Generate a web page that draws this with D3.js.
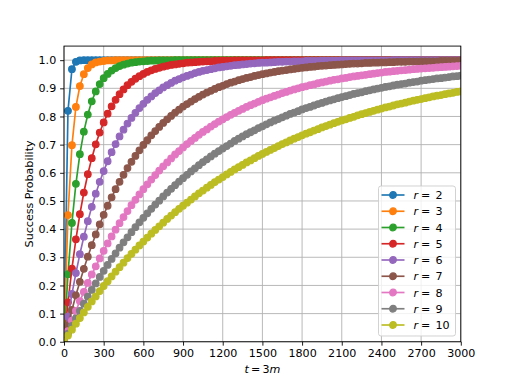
<!doctype html>
<html lang='en'>
  <head>
    <meta charset="utf-8">
    <script src="https://d3js.org/d3.v7.min.js"></script>
    <title>Success Probability</title>
  <style>
  body{
    margin: 0;
    background: white;
  }
  svg text {
    font-family: 'DejaVu Sans', sans-serif;
  }
  </style>
  </head>
  <body>
    <div id='chart'></div>
    <script>
    // t = 3m, one point every 30
    const tValues = [
      0, 30, 60, 90, 120, 150, 180, 210, 240, 270,
      300, 330, 360, 390, 420, 450, 480, 510, 540, 570,
      600, 630, 660, 690, 720, 750, 780, 810, 840, 870,
      900, 930, 960, 990, 1020, 1050, 1080, 1110, 1140, 1170,
      1200, 1230, 1260, 1290, 1320, 1350, 1380, 1410, 1440, 1470,
      1500, 1530, 1560, 1590, 1620, 1650, 1680, 1710, 1740, 1770,
      1800, 1830, 1860, 1890, 1920, 1950, 1980, 2010, 2040, 2070,
      2100, 2130, 2160, 2190, 2220, 2250, 2280, 2310, 2340, 2370,
      2400, 2430, 2460, 2490, 2520, 2550, 2580, 2610, 2640, 2670,
      2700, 2730, 2760, 2790, 2820, 2850, 2880, 2910, 2940, 2970,
      3000
    ];

    const r2 = [
      0, .820, .968, .994, .999, 1, 1, 1, 1, 1,
      1, 1, 1, 1, 1, 1, 1, 1, 1, 1,
      1, 1, 1, 1, 1, 1, 1, 1, 1, 1,
      1, 1, 1, 1, 1, 1, 1, 1, 1, 1,
      1, 1, 1, 1, 1, 1, 1, 1, 1, 1,
      1, 1, 1, 1, 1, 1, 1, 1, 1, 1,
      1, 1, 1, 1, 1, 1, 1, 1, 1, 1,
      1, 1, 1, 1, 1, 1, 1, 1, 1, 1,
      1, 1, 1, 1, 1, 1, 1, 1, 1, 1,
      1, 1, 1, 1, 1, 1, 1, 1, 1, 1,
      1
    ];
    const r3 = [
      0, .450, .698, .834, .908, .950, .972, .985, .992, .995,
      .997, .999, .999, 1, 1, 1, 1, 1, 1, 1,
      1, 1, 1, 1, 1, 1, 1, 1, 1, 1,
      1, 1, 1, 1, 1, 1, 1, 1, 1, 1,
      1, 1, 1, 1, 1, 1, 1, 1, 1, 1,
      1, 1, 1, 1, 1, 1, 1, 1, 1, 1,
      1, 1, 1, 1, 1, 1, 1, 1, 1, 1,
      1, 1, 1, 1, 1, 1, 1, 1, 1, 1,
      1, 1, 1, 1, 1, 1, 1, 1, 1, 1,
      1, 1, 1, 1, 1, 1, 1, 1, 1, 1,
      1
    ];
    const r4 = [
      0, .240, .422, .561, .666, .746, .807, .854, .889, .915,
      .936, .951, .963, .972, .979, .984, .988, .991, .993, .995,
      .996, .997, .998, .998, .999, .999, .999, .999, 1, 1,
      1, 1, 1, 1, 1, 1, 1, 1, 1, 1,
      1, 1, 1, 1, 1, 1, 1, 1, 1, 1,
      1, 1, 1, 1, 1, 1, 1, 1, 1, 1,
      1, 1, 1, 1, 1, 1, 1, 1, 1, 1,
      1, 1, 1, 1, 1, 1, 1, 1, 1, 1,
      1, 1, 1, 1, 1, 1, 1, 1, 1, 1,
      1, 1, 1, 1, 1, 1, 1, 1, 1, 1,
      1
    ];
    const r5 = [
      0, .140, .260, .364, .453, .530, .595, .652, .701, .743,
      .779, .810, .836, .859, .879, .896, .911, .923, .934, .943,
      .951, .958, .964, .969, .973, .977, .980, .983, .985, .987,
      .989, .991, .992, .993, .994, .995, .996, .996, .997, .997,
      .998, .998, .998, .999, .999, .999, .999, .999, .999, .999,
      .999, 1, 1, 1, 1, 1, 1, 1, 1, 1,
      1, 1, 1, 1, 1, 1, 1, 1, 1, 1,
      1, 1, 1, 1, 1, 1, 1, 1, 1, 1,
      1, 1, 1, 1, 1, 1, 1, 1, 1, 1,
      1, 1, 1, 1, 1, 1, 1, 1, 1, 1,
      1
    ];
    const r6 = [
      0, .089, .170, .244, .311, .373, .428, .479, .526, .568,
      .606, .641, .673, .702, .729, .753, .775, .795, .813, .830,
      .845, .859, .871, .883, .893, .903, .911, .919, .927, .933,
      .939, .944, .949, .954, .958, .962, .965, .968, .971, .974,
      .976, .978, .980, .982, .983, .985, .986, .988, .989, .990,
      .991, .991, .992, .993, .994, .994, .995, .995, .996, .996,
      .996, .997, .997, .997, .997, .998, .998, .998, .998, .998,
      .999, .999, .999, .999, .999, .999, .999, .999, .999, .999,
      .999, .999, .999, 1, 1, 1, 1, 1, 1, 1,
      1, 1, 1, 1, 1, 1, 1, 1, 1, 1,
      1
    ];
    const r7 = [
      0, .058, .113, .165, .213, .259, .302, .343, .381, .417,
      .451, .483, .513, .542, .568, .593, .617, .639, .660, .680,
      .699, .716, .733, .748, .763, .777, .790, .802, .814, .824,
      .835, .844, .853, .862, .870, .878, .885, .891, .898, .904,
      .909, .915, .920, .924, .929, .933, .937, .940, .944, .947,
      .950, .953, .956, .958, .961, .963, .965, .967, .969, .971,
      .973, .974, .976, .977, .979, .980, .981, .982, .983, .984,
      .985, .986, .987, .988, .988, .989, .990, .990, .991, .991,
      .992, .992, .993, .993, .994, .994, .994, .995, .995, .995,
      .996, .996, .996, .996, .996, .997, .997, .997, .997, .997,
      .998
    ];
    const r8 = [
      0, .038, .075, .110, .144, .177, .209, .239, .268, .296,
      .323, .349, .374, .398, .421, .443, .464, .485, .504, .523,
      .542, .559, .576, .592, .608, .623, .637, .651, .665, .677,
      .690, .702, .713, .724, .735, .745, .754, .764, .773, .782,
      .790, .798, .806, .813, .820, .827, .834, .840, .846, .852,
      .858, .863, .868, .873, .878, .883, .887, .892, .896, .900,
      .904, .907, .911, .914, .918, .921, .924, .927, .930, .932,
      .935, .937, .940, .942, .944, .946, .948, .950, .952, .954,
      .956, .958, .959, .961, .962, .964, .965, .966, .968, .969,
      .970, .971, .972, .973, .974, .975, .976, .977, .978, .979,
      .980
    ];
    const r9 = [
      0, .029, .056, .083, .110, .135, .160, .184, .207, .230,
      .252, .273, .294, .314, .334, .353, .371, .389, .407, .424,
      .440, .456, .472, .487, .501, .516, .530, .543, .556, .569,
      .581, .593, .605, .616, .627, .638, .648, .658, .668, .677,
      .686, .695, .704, .713, .721, .729, .737, .744, .751, .759,
      .765, .772, .779, .785, .791, .797, .803, .809, .814, .819,
      .825, .830, .834, .839, .844, .848, .853, .857, .861, .865,
      .869, .872, .876, .880, .883, .886, .890, .893, .896, .899,
      .902, .905, .907, .910, .913, .915, .917, .920, .922, .924,
      .927, .929, .931, .933, .935, .936, .938, .940, .942, .943,
      .945
    ];
    const r10 = [
      0, .022, .043, .064, .084, .104, .124, .143, .161, .180,
      .198, .215, .232, .249, .265, .281, .297, .312, .327, .342,
      .356, .370, .384, .397, .410, .423, .436, .448, .460, .472,
      .483, .494, .505, .516, .527, .537, .547, .557, .567, .576,
      .585, .594, .603, .612, .620, .628, .637, .644, .652, .660,
      .667, .674, .681, .688, .695, .702, .708, .715, .721, .727,
      .733, .739, .744, .750, .755, .761, .766, .771, .776, .781,
      .786, .790, .795, .799, .804, .808, .812, .816, .820, .824,
      .828, .832, .835, .839, .843, .846, .849, .853, .856, .859,
      .862, .865, .868, .871, .874, .876, .879, .882, .884, .887,
      .889
    ];

    const rLabels = [2, 3, 4, 5, 6, 7, 8, 9, 10];
    const seriesValues = [r2, r3, r4, r5, r6, r7, r8, r9, r10];
    const colors = ['#1f77b4','#ff7f0e','#2ca02c','#d62728','#9467bd','#8c564b','#e377c2','#7f7f7f','#bcbd22'];

    const xTicks = [0, 300, 600, 900, 1200, 1500, 1800, 2100, 2400, 2700, 3000];
    const yTicks = [0, 0.1, 0.2, 0.3, 0.4, 0.5, 0.6, 0.7, 0.8, 0.9, 1.0];

    const wsvg = 512;
    const hsvg = 384;
    const padL = 64, padR = 460.8, padT = 46.08, padB = 341.76;
    const fontSize = 11.11;

    const xScale = d3.scaleLinear().domain([0, 3000]).range([padL, padR]);
    const yScale = d3.scaleLinear().domain([0, 1.05]).range([padB, padT]);

    const svg = d3.select('#chart')
                  .append('svg')
                  .attr('width', wsvg)
                  .attr('height', hsvg);

    svg.append('rect')
       .attr('width', wsvg).attr('height', hsvg)
       .attr('fill', 'white');

    svg.append('clipPath')
       .attr('id', 'plotClip')
       .append('rect')
       .attr('x', padL).attr('y', padT)
       .attr('width', padR - padL).attr('height', padB - padT);

    // grid
    const grid = svg.append('g').attr('stroke', '#b0b0b0').attr('stroke-width', 0.89);
    grid.selectAll('.vgrid')
        .data(xTicks)
        .enter()
        .append('line')
        .attr('x1', d => xScale(d)).attr('x2', d => xScale(d))
        .attr('y1', padT).attr('y2', padB);
    grid.selectAll('.hgrid')
        .data(yTicks)
        .enter()
        .append('line')
        .attr('x1', padL).attr('x2', padR)
        .attr('y1', d => yScale(d)).attr('y2', d => yScale(d));

    // curves, drawn in order so r=10 ends up on top
    const line = d3.line()
                   .x((d, i) => xScale(tValues[i]))
                   .y(d => yScale(d));

    const plot = svg.append('g').attr('clip-path', 'url(#plotClip)');

    seriesValues.forEach((vals, k) => {
      const g = plot.append('g');
      g.append('path')
       .datum(vals)
       .attr('d', line)
       .attr('fill', 'none')
       .attr('stroke', colors[k])
       .attr('stroke-width', 1.67);
      g.selectAll('circle')
       .data(vals)
       .enter()
       .append('circle')
       .attr('cx', (d, i) => xScale(tValues[i]))
       .attr('cy', d => yScale(d))
       .attr('r', 3.33)
       .attr('fill', colors[k])
       .attr('stroke', colors[k])
       .attr('stroke-width', 1.1);
    });

    // axes
    const xAxis = d3.axisBottom(xScale)
                    .tickValues(xTicks)
                    .tickSize(3.9)
                    .tickPadding(3.9)
                    .tickFormat(d3.format('d'));
    const yAxis = d3.axisLeft(yScale)
                    .tickValues(yTicks)
                    .tickSize(3.9)
                    .tickPadding(3.9)
                    .tickFormat(d3.format('.1f'));

    const gx = svg.append('g')
       .attr('transform', 'translate(0,' + padB + ')')
       .call(xAxis);
    const gy = svg.append('g')
       .attr('transform', 'translate(' + padL + ',0)')
       .call(yAxis);

    [gx, gy].forEach(g => {
      g.select('.domain').remove();
      g.selectAll('.tick line').attr('stroke', 'black').attr('stroke-width', 0.89);
      g.selectAll('.tick text')
       .attr('fill', 'black')
       .style('font-size', fontSize + 'px')
       .style('font-family', "'DejaVu Sans', sans-serif");
    });

    svg.append('rect')
       .attr('x', padL).attr('y', padT)
       .attr('width', padR - padL).attr('height', padB - padT)
       .attr('fill', 'none')
       .attr('stroke', 'black')
       .attr('stroke-width', 0.89);

    // axis labels
    const xLabel = svg.append('text')
       .attr('x', (padL + padR) / 2)
       .attr('y', 373)
       .attr('text-anchor', 'middle')
       .style('font-size', fontSize + 'px');
    xLabel.append('tspan').attr('font-style', 'italic').text('t');
    xLabel.append('tspan').text('\u2009=\u20093');
    xLabel.append('tspan').attr('font-style', 'italic').text('m');

    svg.append('text')
       .attr('transform', 'translate(33,' + ((padT + padB) / 2) + ') rotate(-90)')
       .attr('text-anchor', 'middle')
       .style('font-size', fontSize + 'px')
       .text('Success Probability');

    // legend, lower right
    const legend = svg.append('g');
    legend.append('rect')
          .attr('x', 378.5).attr('y', 186)
          .attr('width', 77).attr('height', 150)
          .attr('rx', 2.5)
          .attr('fill', 'white')
          .attr('fill-opacity', 0.8)
          .attr('stroke', '#cccccc')
          .attr('stroke-width', 0.89);

    const rowH = 16.25;
    const entries = legend.selectAll('.entry')
          .data(rLabels)
          .enter()
          .append('g')
          .attr('transform', (d, i) => 'translate(0,' + (195 + i * rowH) + ')');

    entries.append('line')
           .attr('x1', 381.5).attr('x2', 404.5)
           .attr('y1', 0).attr('y2', 0)
           .attr('stroke', (d, i) => colors[i])
           .attr('stroke-width', 1.67);
    entries.append('circle')
           .attr('cx', 393).attr('cy', 0)
           .attr('r', 3.33)
           .attr('fill', (d, i) => colors[i])
           .attr('stroke', (d, i) => colors[i])
           .attr('stroke-width', 1.1);

    const labels = entries.append('text')
           .attr('y', 4)
           .style('font-size', fontSize + 'px');
    labels.append('tspan').attr('x', 413.5).attr('font-style', 'italic').text('r');
    labels.append('tspan').attr('x', 421).text('=');
    labels.append('tspan').attr('x', 435.5).text(d => d);
    </script>
  </body>
</html>
